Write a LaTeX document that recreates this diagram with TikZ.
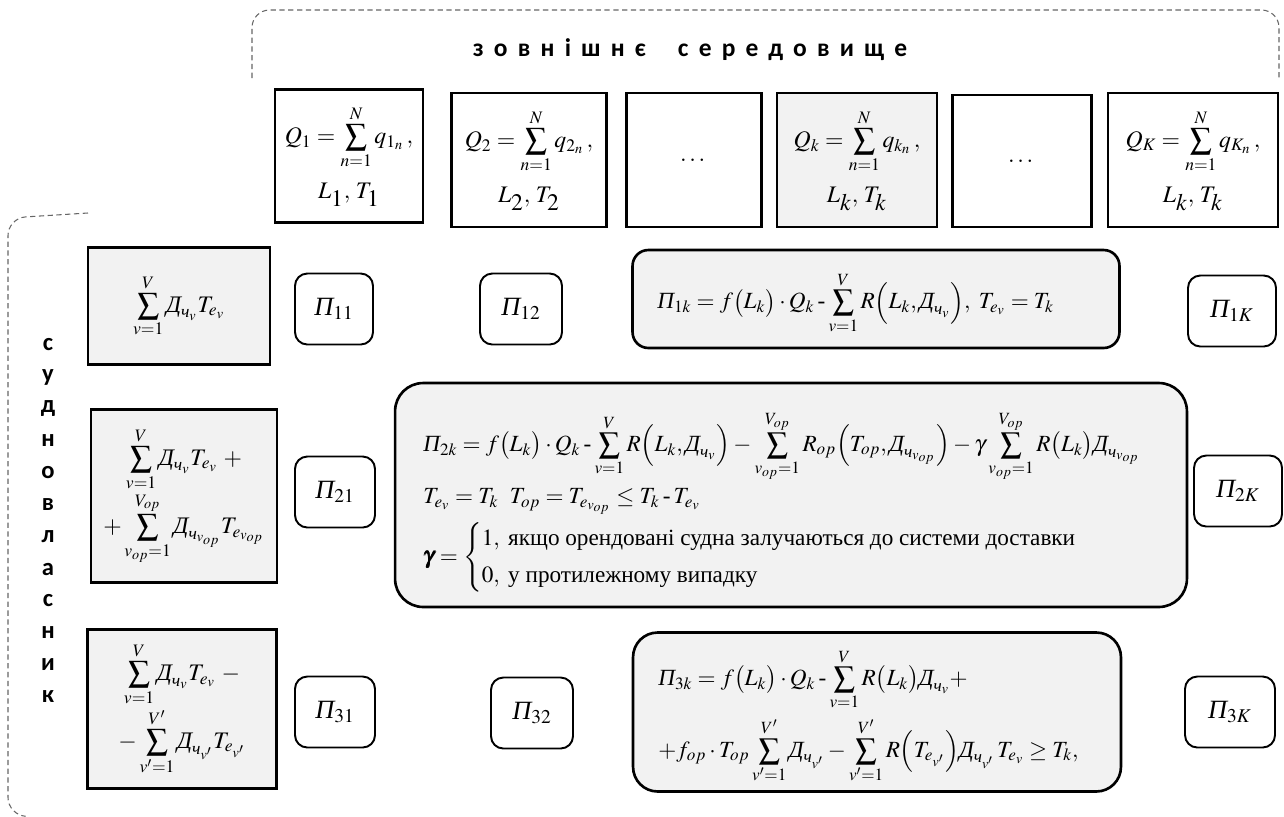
\documentclass[tikz,border=0pt]{standalone}
\usepackage{amsmath}
\usepackage{mathptmx}
\usepackage[no-math]{fontspec}
\setmainfont{Liberation Serif}
\newfontfamily\calfont{Carlito}
\usepackage{tikz}

% cyrillic letters in formulas
\newcommand{\Dch}{\text{\itshape Д}}
\newcommand{\chs}{\text{\itshape ч}}
\newcommand{\Pch}{\text{\itshape П}}
\newcommand{\hm}{\mathbin{\text{-}}}
\newcommand{\Sm}{\mathop{\vcenter{\hbox{\scalebox{1.3}{$\sum$}}}}\limits}

\begin{document}
\begin{tikzpicture}[x=0.02cm, y=-0.02cm,
    topbox/.style={draw, line width=1.6pt, align=center, inner sep=0pt, font=\fontsize{13.5}{16}\selectfont},
    ownbox/.style={draw, line width=1.6pt, fill=black!5, align=center, inner sep=0pt, font=\fontsize{13.5}{16}\selectfont},
    pibox/.style={draw, line width=1.1pt, rounded corners=7pt, minimum width=1.6cm, minimum height=1.42cm, font=\fontsize{15}{17}\selectfont},
    formbox/.style={draw, line width=1.5pt, fill=black!5},
    formtext/.style={anchor=west, align=left, inner sep=0pt, font=\fontsize{13.2}{16}\selectfont},
    bracket/.style={draw=black!60, line width=0.6pt, dash pattern=on 3pt off 2pt},
    header/.style={font=\fontsize{14.5}{16}\selectfont\calfont\bfseries\addfontfeatures{LetterSpace=40}},
    letter/.style={font=\fontsize{14}{15}\selectfont\calfont\bfseries, inner sep=0pt}]
    \useasboundingbox (0,0) rectangle (1284,816);

    % outer environment
    \draw[bracket, rounded corners=10pt] (252,78) -- (252,10) -- (1279,10) -- (1279,78);
    \node (env) [header] at (690,50) {зовнішнє\ \ середовище};

    \node (q1) [topbox, minimum width=2.96cm, minimum height=2.66cm] at (349,156) {$Q_1 = \Sm_{n=1}^{N} q_{1_n}\,,$\\[7pt] $L_{\textstyle 1},\, T_{\textstyle 1}$};
    \node (q2) [topbox, minimum width=3.10cm, minimum height=2.68cm] at (529,160) {$Q_2 = \Sm_{n=1}^{N} q_{2_n}\,,$\\[7pt] $L_{\textstyle 2},\, T_{\textstyle 2}$};
    \node (qdots1) [topbox, minimum width=2.70cm, minimum height=2.68cm] at (694,160) {$\dots$};
    \node (qk) [topbox, fill=black!5, minimum width=3.20cm, minimum height=2.68cm] at (857,160) {$Q_k = \Sm_{n=1}^{N} q_{k_n}\,,$\\[7pt] $L_{\textstyle k},\, T_{\textstyle k}$};
    \node (qdots2) [topbox, minimum width=2.78cm, minimum height=2.64cm] at (1022,161) {$\dots$};
    \node (qK) [topbox, minimum width=3.40cm, minimum height=2.68cm] at (1193,160) {$Q_K = \Sm_{n=1}^{N} q_{K_n}\,,$\\[7pt] $L_{\textstyle k},\, T_{\textstyle k}$};

    % ship owner
    \draw[bracket, rounded corners=10pt] (88,213) -- (8,218) -- (8,815) -- (22,816);
    \foreach \ch [count=\i] in {с,у,д,н,о,в,л,а,с,н,и,к}
        \node (v\i) [letter] at (48,{345+32*(\i-1)}) {\ch};

    \node (own1) [ownbox, minimum width=3.64cm, minimum height=2.34cm] at (179,306) {$\Sm_{v=1}^{V}\Dch_{\chs_v}T_{e_v}$};
    \node (own2) [ownbox, minimum width=3.72cm, minimum height=3.46cm] at (184,496) {$\Sm_{v=1}^{V}\Dch_{\chs_v}T_{e_v}\ +$\\ $+\Sm_{v_{op}=1}^{V_{op}}\Dch_{\chs_{v_{op}}}T_{e_{v_{op}}}$};
    \node (own3) [ownbox, minimum width=3.78cm, minimum height=3.18cm] at (182,709) {$\Sm_{v=1}^{V}\Dch_{\chs_v}T_{e_v}\ -$\\ $-\Sm_{v'=1}^{V'}\Dch_{\chs_{v'}}T_{e_{v'}}$};

    \node (p11) [pibox, minimum width=1.56cm] at (334,309) {$\Pch_{11}$};
    \node (p12) [pibox, minimum width=1.64cm] at (521,309) {$\Pch_{12}$};
    \node (p1K) [pibox, minimum width=1.76cm] at (1232,311) {$\Pch_{1K}$};
    \node (p21) [pibox] at (335,492) {$\Pch_{21}$};
    \node (p2K) [pibox, minimum width=1.76cm] at (1238,491) {$\Pch_{2K}$};
    \node (p31) [pibox] at (335,712) {$\Pch_{31}$};
    \node (p32) [pibox, minimum width=1.64cm] at (532,713) {$\Pch_{32}$};
    \node (p3K) [pibox, minimum width=1.80cm] at (1230,712) {$\Pch_{3K}$};

    % profit of k-th route
    \node (prof1) [formbox, rounded corners=9pt, minimum width=9.74cm, minimum height=1.96cm] at (876,299) {};
    \node (prof1txt) [formtext] at (657,303)
        {$\Pch_{1k} = f\bigl(L_k\bigr)\cdot Q_k \hm \Sm_{v=1}^{V} R\Bigl(L_k,\Dch_{\chs_v}\Bigr),\ T_{e_v} = T_k$};
    \node (prof2) [formbox, rounded corners=16pt, minimum width=15.84cm, minimum height=4.48cm] at (791,495) {};
    \node (prof2txt) [formtext] at (423,502)
        {$\Pch_{2k} = f\bigl(L_k\bigr)\cdot Q_k \hm \Sm_{v=1}^{V} R\Bigl(L_k,\Dch_{\chs_v}\Bigr) - \Sm_{v_{op}=1}^{V_{op}} R_{op}\Bigl(T_{op},\Dch_{\chs_{v_{op}}}\Bigr) - \gamma\Sm_{v_{op}=1}^{V_{op}} R\bigl(L_k\bigr)\Dch_{\chs_{v_{op}}}$\\[3pt]
         $T_{e_v} = T_k\ \ T_{op} = T_{e_{v_{op}}} \le T_k \hm T_{e_v}$\\[3pt]
         $\pmb{\gamma} = \begin{cases}1,\ \text{якщо орендовані судна залучаються до системи доставки}\\[2pt] 0,\ \text{у протилежному випадку}\end{cases}$};
    \node (prof3) [formbox, rounded corners=14pt, minimum width=9.76cm, minimum height=3.18cm] at (877,712) {};
    \node (prof3txt) [formtext] at (658,716)
        {$\Pch_{3k} = f\bigl(L_k\bigr)\cdot Q_k \hm \Sm_{v=1}^{V} R\bigl(L_k\bigr)\Dch_{\chs_v} +$\\[3pt]
         $+f_{op}\cdot T_{op}\Sm_{v'=1}^{V'} \Dch_{\chs_{v'}} - \Sm_{v'=1}^{V'} R\Bigl(T_{e_{v'}}\Bigr)\Dch_{\chs_{v'}}\,T_{e_v} \ge T_k,$};
\end{tikzpicture}
\end{document}
